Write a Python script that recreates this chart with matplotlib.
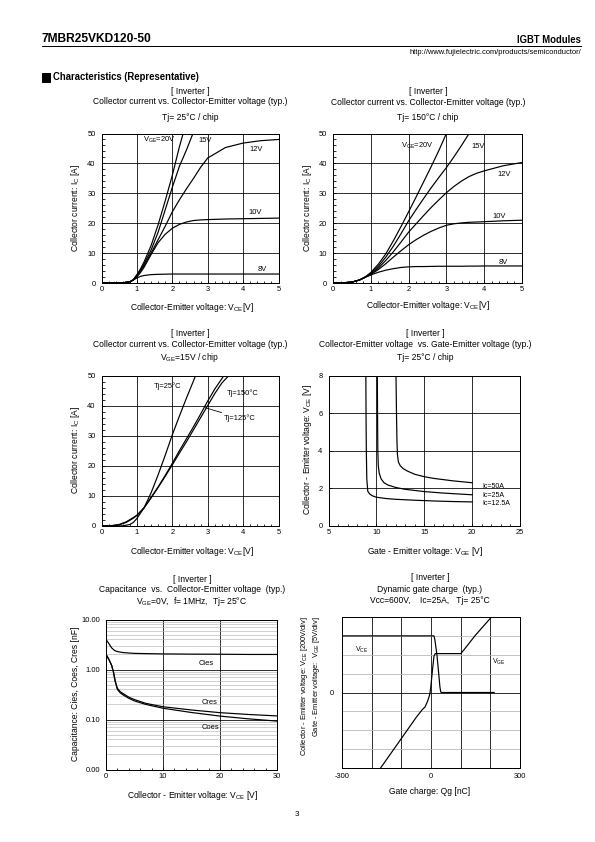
import matplotlib
matplotlib.use('Agg')
import matplotlib.pyplot as plt
from matplotlib.ticker import MultipleLocator, FixedLocator, NullFormatter
from matplotlib.patches import Rectangle

plt.rcParams['font.family'] = ['Liberation Sans', 'DejaVu Sans']
plt.rcParams['mathtext.fontset'] = 'custom'
plt.rcParams['mathtext.rm'] = 'Liberation Sans'
plt.rcParams['mathtext.default'] = 'regular'
plt.rcParams['axes.unicode_minus'] = False

# --- Ic vs Vce, Tj=25C ---
vce_25 = [0, 0.6, 0.8, 0.9, 1.0, 1.1, 1.2, 1.4, 1.6, 1.8, 2.0, 2.2, 2.4, 2.6, 2.8, 3.0, 3.5, 4.0, 4.5, 5.0]
ic_25 = {
    '8V':  [0, 0.05, 0.4, 1.0, 1.7, 2.2, 2.5, 2.8, 2.9, 2.95, 3.0, 3.0, 3.0, 3.0, 3.0, 3.0, 3.0, 3.0, 3.0, 3.0],
    '10V': [0, 0.05, 0.4, 1.0, 2.0, 3.5, 5.2, 9.5, 13.5, 16.3, 18.3, 19.6, 20.4, 20.9, 21.1, 21.2, 21.4, 21.5, 21.6, 21.7],
    '12V': [0, 0.05, 0.4, 1.0, 2.5, 4.0, 5.8, 10.0, 14.5, 19.0, 23.8, 27.8, 31.5, 35.0, 38.7, 41.8, 45.3, 46.8, 47.6, 48.0],
    '15V': [0, 0.05, 0.4, 1.1, 2.6, 4.3, 6.3, 11.0, 17.0, 24.5, 32.0, 39.0, 44.5, 50.5, None, None, None, None, None, None],
    '20V': [0, 0.05, 0.4, 1.1, 2.8, 4.7, 7.0, 12.5, 19.5, 27.5, 36.0, 45.5, 54.0, None, None, None, None, None, None, None],
}
lbl_25 = [('V$_{GE}$=20V', 1.16, 47.8), ('15V', 2.73, 47.8), ('12V', 4.18, 44.7), ('10V', 4.16, 23.5), ('8V', 4.42, 4.5)]

# --- Ic vs Vce, Tj=150C ---
vce_150 = [0, 0.3, 0.5, 0.7, 0.85, 1.0, 1.2, 1.4, 1.6, 1.8, 2.0, 2.2, 2.4, 2.6, 2.8, 3.0, 3.2, 3.4, 3.6, 3.8, 4.0, 4.5, 5.0]
ic_150 = {
    '8V':  [0, 0.1, 0.3, 1.0, 1.9, 2.7, 3.6, 4.3, 4.8, 5.2, 5.4, 5.5, 5.5, 5.55, 5.6, 5.6, 5.6, 5.6, 5.65, 5.65, 5.7, 5.7, 5.7],
    '10V': [0, 0.1, 0.3, 1.0, 1.9, 2.8, 4.5, 6.5, 8.7, 10.8, 12.8, 14.5, 16.0, 17.3, 18.4, 19.3, 19.8, 20.1, 20.3, 20.4, 20.5, 20.8, 21.0],
    '12V': [0, 0.1, 0.3, 1.0, 1.9, 3.0, 5.0, 7.6, 10.5, 13.7, 17.0, 19.8, 22.6, 25.3, 27.8, 30.2, 32.3, 34.1, 35.6, 36.7, 37.5, 39.2, 40.3],
    '15V': [0, 0.1, 0.3, 1.0, 2.0, 3.2, 5.6, 8.7, 12.4, 16.5, 20.8, 24.6, 28.3, 31.9, 35.3, 38.6, 42.2, 46.0, 50.0, None, None, None, None],
    '20V': [0, 0.1, 0.3, 1.0, 2.0, 3.5, 6.3, 9.8, 14.2, 18.9, 23.8, 28.8, 33.9, 39.0, 44.3, 50.0, None, None, None, None, None, None, None],
}
lbl_150 = [('V$_{GE}$=20V', 1.8, 45.8), ('15V', 3.67, 45.8), ('12V', 4.36, 36.3), ('10V', 4.23, 22.1), ('8V', 4.37, 7.0)]

# --- Ic vs Vce, Vge=15V ---
vce_tj25 = [0, 0.6, 0.8, 0.9, 1.0, 1.2, 1.4, 1.6, 1.8, 2.0, 2.2, 2.4, 2.66]
ic_tj25 = [0, 0.05, 0.5, 1.2, 2.5, 6.0, 11.0, 17.0, 23.5, 30.3, 36.5, 42.5, 50.0]
vce_tj125 = [0, 0.3, 0.5, 0.7, 0.9, 1.0, 1.2, 1.4, 1.6, 1.8, 2.0, 2.2, 2.4, 2.6, 2.8, 3.0, 3.2, 3.46]
ic_tj125 = [0, 0.1, 0.4, 1.2, 2.6, 3.5, 6.0, 9.5, 13.0, 16.8, 20.8, 25.0, 29.0, 33.0, 37.2, 41.5, 45.5, 50.0]
vce_tj150 = [0, 0.3, 0.5, 0.7, 0.9, 1.0, 1.2, 1.4, 1.6, 1.8, 2.0, 2.2, 2.4, 2.6, 2.8, 3.0, 3.2, 3.4, 3.6]
ic_tj150 = [0, 0.15, 0.5, 1.4, 2.8, 3.6, 6.0, 9.3, 12.8, 16.5, 20.3, 24.2, 28.0, 32.0, 36.0, 40.0, 44.0, 47.5, 50.0]

# --- Vce vs Vge, Tj=25C ---
vge_125a = [8.9, 8.92, 8.95, 9.0, 9.1, 9.3, 9.6, 10, 11, 12, 14, 16, 18, 20]
vce_125a = [8.0, 6.0, 4.0, 2.5, 1.85, 1.7, 1.6, 1.53, 1.46, 1.42, 1.37, 1.33, 1.3, 1.28]
vge_25a = [10.1, 10.12, 10.15, 10.2, 10.3, 10.5, 10.8, 11.2, 12, 13, 15, 17, 20]
vce_25a = [8.0, 6.0, 4.0, 3.2, 2.8, 2.5, 2.3, 2.18, 2.05, 1.95, 1.83, 1.75, 1.66]
vge_50a = [12.05, 12.1, 12.15, 12.2, 12.3, 12.5, 12.8, 13.2, 14, 15, 16, 18, 20]
vce_50a = [8.0, 6.0, 4.5, 3.8, 3.4, 3.2, 3.05, 2.93, 2.75, 2.62, 2.53, 2.4, 2.3]

# --- Capacitance ---
v_cies = [0, 0.5, 1, 1.5, 2, 3, 5, 10, 15, 20, 25, 30]
c_cies = [4.0, 3.3, 2.7, 2.4, 2.28, 2.18, 2.1, 2.05, 2.03, 2.02, 2.0, 2.0]
v_cap = [0, 0.5, 1, 1.3, 1.6, 2, 2.5, 3, 4, 5, 7, 10, 15, 20, 25, 30]
c_cres = [2.0, 1.6, 1.2, 0.9, 0.6, 0.42, 0.36, 0.33, 0.28, 0.25, 0.21, 0.18, 0.155, 0.137, 0.126, 0.118]
c_coes = [2.0, 1.6, 1.2, 0.9, 0.58, 0.4, 0.34, 0.31, 0.265, 0.235, 0.2, 0.168, 0.138, 0.117, 0.103, 0.093]

# --- Gate charge ---
qg_vce = [-300, 10, 13, 20, 26, 30, 33, 36, 213]
vce_qg = [600, 600, 560, 400, 200, 60, 5, 0, 0]
qg_vge = [-170, -100, -50, -30, -20, -12, -6, -3, 0, 5, 10, 14, 100, 110, 150, 204, 215]
vge_qg = [-20, -12.2, -6.6, -4.6, -3.8, -2.4, -1.0, 0, 2, 6, 9.6, 10.3, 10.3, 11.2, 15.2, 20, 21]

W, H = 595, 842
fig = plt.figure(figsize=(W / 72, H / 72), dpi=72)
TICK = 7.5
ANN = 7.5


def px_axes(l, t, r, b):
    return fig.add_axes([l / W, 1 - b / H, (r - l) / W, (b - t) / H])


def ftext(x, y, s, **kw):
    kw.setdefault('ha', 'center')
    kw.setdefault('va', 'center')
    kw.setdefault('fontsize', 8.5)
    fig.text(x / W, 1 - y / H, s, **kw)


def style(ax):
    for sp in ax.spines.values():
        sp.set_linewidth(1.0)
    ax.tick_params(direction='in', labelsize=TICK, length=3, width=0.8, pad=3)
    ax.tick_params(axis='y', pad=6)
    ax.tick_params(which='minor', direction='in', length=2.5, width=0.8)
    ax.grid(True, which='major', color='black', lw=0.8)


def curve(ax, x, y):
    pts = [(a, b) for a, b in zip(x, y) if b is not None]
    ax.plot([p[0] for p in pts], [p[1] for p in pts], color='black', lw=1.2)


# header
ftext(42, 39, '7MBR25VKD120-50', ha='left', fontsize=12, fontweight='bold')
ftext(581, 40, 'IGBT Modules', ha='right', fontsize=9.5, fontweight='bold')
fig.add_artist(plt.Line2D([42 / W, 581 / W], [1 - 45.5 / H, 1 - 45.5 / H], color='black', lw=1.0))
ftext(581, 52, 'http://www.fujielectric.com/products/semiconductor/', ha='right', fontsize=7.5)
fig.add_artist(Rectangle((42 / W, 1 - 81.5 / H), 8 / W, 8 / H, color='black'))
ftext(53, 77.5, 'Characteristics (Representative)', ha='left', fontsize=9.5, fontweight='bold')
ftext(297, 814, '3', fontsize=8)

# panel 1
ax1 = px_axes(101.5, 133.5, 278.5, 283)
style(ax1)
for k in ['8V', '10V', '12V', '15V', '20V']:
    curve(ax1, vce_25, ic_25[k])
for s, x, y in lbl_25:
    ax1.text(x, y, s, fontsize=ANN, ha='left', va='center')
ax1.set_xlim(0, 5); ax1.set_ylim(0, 50)
ax1.xaxis.set_minor_locator(MultipleLocator(0.2))
ax1.yaxis.set_minor_locator(MultipleLocator(2))
ftext(190, 91, '[ Inverter ]')
ftext(190, 102, 'Collector current vs. Collector-Emitter voltage (typ.)')
ftext(190, 118, 'Tj= 25°C / chip')
ftext(192, 307, 'Collector-Emitter voltage: V$_{CE}$[V]')
ftext(75, 208, 'Collector current: I$_{C}$ [A]', rotation=90)

# panel 2
ax2 = px_axes(333, 133.5, 522, 283)
style(ax2)
for k in ['8V', '10V', '12V', '15V', '20V']:
    curve(ax2, vce_150, ic_150[k])
for s, x, y in lbl_150:
    ax2.text(x, y, s, fontsize=ANN, ha='left', va='center')
ax2.set_xlim(0, 5); ax2.set_ylim(0, 50)
ax2.xaxis.set_minor_locator(MultipleLocator(0.2))
ax2.yaxis.set_minor_locator(MultipleLocator(2))
ftext(428, 91, '[ Inverter ]')
ftext(428, 102.5, 'Collector current vs. Collector-Emitter voltage (typ.)')
ftext(428, 117.5, 'Tj= 150°C / chip')
ftext(428, 306, 'Collector-Emitter voltage: V$_{CE}$[V]')
ftext(307, 208, 'Collector current: I$_{C}$ [A]', rotation=90)

# panel 3
ax3 = px_axes(101.5, 375.5, 278.5, 526)
style(ax3)
curve(ax3, vce_tj25, ic_tj25)
curve(ax3, vce_tj125, ic_tj125)
curve(ax3, vce_tj150, ic_tj150)
ax3.text(1.49, 46.3, 'Tj=25°C', fontsize=ANN, ha='left', va='center')
ax3.text(3.55, 44.3, 'Tj=150°C', fontsize=ANN, ha='left', va='center')
ax3.annotate('Tj=125°C', xy=(2.93, 39.3), xytext=(3.45, 35.9), fontsize=ANN, ha='left', va='center',
             arrowprops=dict(arrowstyle='-', lw=0.8, color='black', shrinkA=0, shrinkB=0))
ax3.set_xlim(0, 5); ax3.set_ylim(0, 50)
ax3.xaxis.set_minor_locator(MultipleLocator(0.2))
ax3.yaxis.set_minor_locator(MultipleLocator(2))
ftext(190, 333, '[ Inverter ]')
ftext(190, 344.5, 'Collector current vs. Collector-Emitter voltage (typ.)')
ftext(190, 357, 'V$_{GE}$=15V / chip')
ftext(192, 552, 'Collector-Emitter voltage: V$_{CE}$[V]')
ftext(75, 450, 'Collector current: I$_{C}$ [A]', rotation=90)

# panel 4
ax4 = px_axes(328.5, 375.5, 520, 526)
style(ax4)
curve(ax4, vge_125a, vce_125a)
curve(ax4, vge_25a, vce_25a)
curve(ax4, vge_50a, vce_50a)
for s, y in [('Ic=50A', 2.08), ('Ic=25A', 1.64), ('Ic=12.5A', 1.22)]:
    ax4.text(21.1, y, s, fontsize=ANN - 0.5, ha='left', va='center')
ax4.set_xlim(5, 25); ax4.set_ylim(0, 8)
ax4.xaxis.set_major_locator(MultipleLocator(5))
ax4.yaxis.set_major_locator(MultipleLocator(2))
ax4.xaxis.set_minor_locator(MultipleLocator(1))
ftext(425, 333, '[ Inverter ]')
ftext(425, 344.5, 'Collector-Emitter voltage  vs. Gate-Emitter voltage (typ.)')
ftext(425, 357, 'Tj= 25°C / chip')
ftext(425, 552, 'Gate - Emitter voltage: V$_{GE}$ [V]')
ftext(307, 450, 'Collector - Emitter voltage: V$_{CE}$ [V]', rotation=90)

# panel 5
ax5 = px_axes(106, 619.5, 277, 769.5)
for sp in ax5.spines.values():
    sp.set_linewidth(1.0)
ax5.set_yscale('log')
ax5.set_xlim(0, 30); ax5.set_ylim(0.01, 10)
ax5.yaxis.set_major_locator(FixedLocator([0.01, 0.1, 1, 10]))
ax5.set_yticklabels(['0.00', '0.10', '1.00', '10.00'])
ax5.yaxis.set_minor_locator(FixedLocator([m * d for d in [0.01, 0.1, 1] for m in range(2, 10)]))
ax5.yaxis.set_minor_formatter(NullFormatter())
ax5.xaxis.set_major_locator(MultipleLocator(10))
ax5.xaxis.set_minor_locator(MultipleLocator(2))
ax5.tick_params(direction='in', labelsize=TICK, length=3, width=0.8, pad=3)
ax5.tick_params(axis='y', pad=6, which='both', length=0)
ax5.tick_params(axis='x', which='minor', direction='in', length=2.5, width=0.8)
ax5.yaxis.grid(True, which='minor', color='#b4b4b4', lw=0.6)
ax5.grid(True, which='major', color='black', lw=0.8)
ax5.plot(v_cies, c_cies, color='black', lw=1.2)
ax5.plot(v_cap, c_cres, color='black', lw=1.2)
ax5.plot(v_cap, c_coes, color='black', lw=1.2)
ax5.text(16.2, 1.3, 'Cies', fontsize=ANN, ha='left', va='center')
ax5.text(16.8, 0.22, 'Cres', fontsize=ANN, ha='left', va='center')
ax5.text(16.8, 0.068, 'Coes', fontsize=ANN, ha='left', va='center')
ftext(192, 579, '[ Inverter ]')
ftext(192, 590, 'Capacitance  vs.  Collector-Emitter voltage  (typ.)')
ftext(192, 602, 'V$_{GE}$=0V,  f= 1MHz,  Tj= 25°C')
ftext(192, 795, 'Collector - Emitter voltage: V$_{CE}$ [V]')
ftext(75, 694, 'Capacitance: Cies, Coes, Cres [nF]', rotation=90)

# panel 6
ax6 = px_axes(342, 617, 520, 768)
for sp in ax6.spines.values():
    sp.set_linewidth(1.0)
ax6.set_xlim(-300, 300); ax6.set_ylim(-4, 4)
ax6.xaxis.set_major_locator(FixedLocator([-300, 0, 300]))
ax6.xaxis.set_minor_locator(FixedLocator([-200, -100, 100, 200]))
ax6.yaxis.set_major_locator(FixedLocator([0]))
ax6.yaxis.set_minor_locator(FixedLocator([-3, -2, -1, 1, 2, 3]))
ax6.tick_params(which='both', length=0, labelsize=TICK)
ax6.tick_params(axis='x', pad=5)
ax6.tick_params(axis='y', pad=8)
ax6.yaxis.grid(True, which='minor', color='#b4b4b4', lw=0.8)
ax6.xaxis.grid(True, which='both', color='black', lw=0.8)
ax6.yaxis.grid(True, which='major', color='black', lw=0.8)
ax6.plot(qg_vce, [v / 200 for v in vce_qg], color='black', lw=1.2)
ax6.plot(qg_vge, [v / 5 for v in vge_qg], color='black', lw=1.2)
ax6.text(-257, 2.24, 'V$_{CE}$', fontsize=7, ha='left', va='center')
ax6.text(204, 1.63, 'V$_{GE}$', fontsize=7, ha='left', va='center')
ftext(430, 578, '[ Inverter ]')
ftext(430, 589, 'Dynamic gate charge  (typ.)')
ftext(430, 600.5, 'Vcc=600V,    Ic=25A,   Tj= 25°C')
ftext(430, 792, 'Gate charge: Qg [nC]')
ftext(305, 616, 'Collector - Emitter voltage: V$_{CE}$ [200V/div]', rotation=90, va='top', fontsize=7.5)
ftext(316, 616, 'Gate - Emitter voltage:  V$_{GE}$ [5V/div]', rotation=90, va='top', fontsize=7.5)

fig.savefig('out.png', dpi=72)
